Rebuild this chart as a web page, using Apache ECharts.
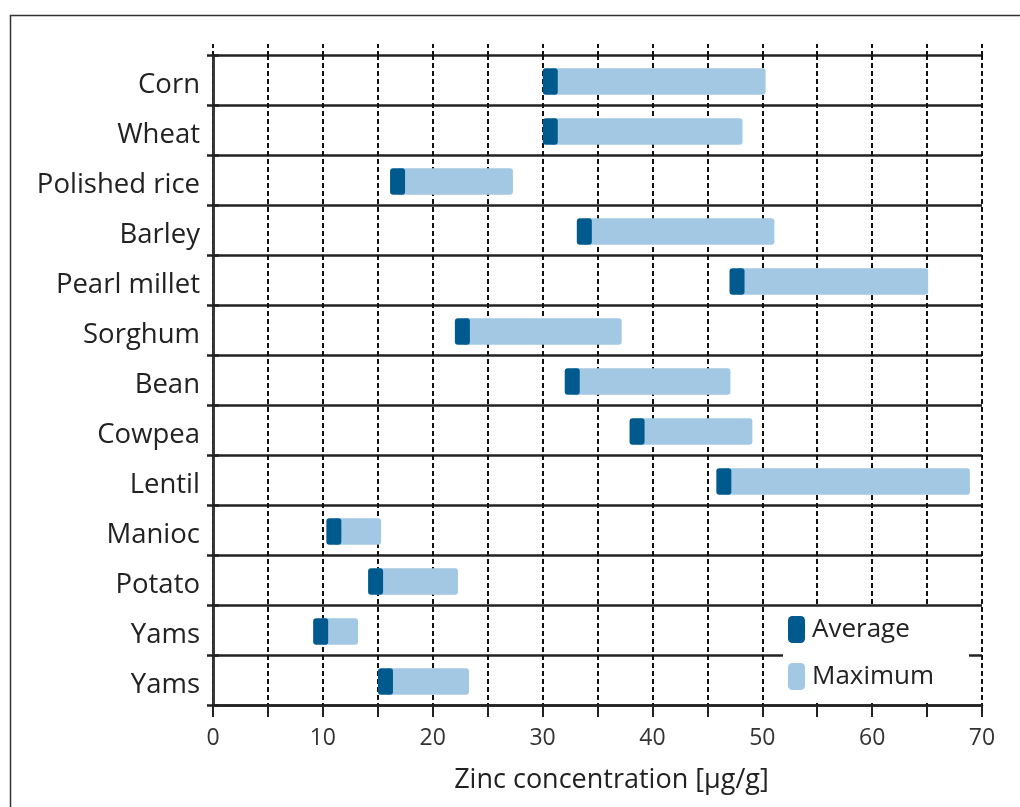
<!DOCTYPE html>
<html>
<head>
<meta charset="utf-8">
<title>Zinc concentration in staple crops</title>
<script src="https://cdn.jsdelivr.net/npm/echarts@6/dist/echarts.min.js"></script>
<style>
  html, body { margin: 0; padding: 0; background: #ffffff; }
  #chart { width: 1020px; height: 807px; }
</style>
</head>
<body>
<div id="chart"></div>
<script>
// Crops, top to bottom
const categories = ['Corn', 'Wheat', 'Polished rice', 'Barley', 'Pearl millet', 'Sorghum',
  'Bean', 'Cowpea', 'Lentil', 'Manioc', 'Potato', 'Yams', 'Yams'];
// Average zinc concentration [µg/g]
const averageZinc = [30.7, 30.7, 16.8, 33.8, 47.7, 22.7, 32.7, 38.6, 46.5, 11.0, 14.8, 9.8, 15.7];
// Maximum zinc concentration [µg/g]
const maximumZinc = [50.3, 48.2, 27.3, 51.1, 65.1, 37.2, 47.1, 49.1, 68.9, 15.3, 22.3, 13.2, 23.3];
// x-axis tick labels
const xTickLabels = [0, 10, 20, 30, 40, 50, 60, 70];

const DARK = '#005a8e';
const LIGHT = '#a3c8e4';
const FONT = '"Open Sans", "DejaVu Sans", sans-serif';

const rows = categories.map((c, i) => [averageZinc[i], maximumZinc[i], i]);

function bandGeom(api) {
  const idx = api.value(2);
  const pAvg = api.coord([api.value(0), idx]);
  const pMax = api.coord([api.value(1), idx]);
  const band = api.size([0, 1])[1];
  const h = band * 0.53;
  const y = pAvg[1] - h / 2 + 1.5;
  return { pAvg, pMax, h, y };
}

const chart = echarts.init(document.getElementById('chart'), null, { renderer: 'canvas' });

chart.setOption({
  animation: false,
  backgroundColor: '#ffffff',
  textStyle: { fontFamily: FONT },
  grid: { left: 213, right: 38, top: 55, bottom: 102, containLabel: false },
  legend: {
    orient: 'vertical',
    left: 788,
    top: 616,
    padding: 0,
    z: 10,
    itemWidth: 17,
    itemHeight: 27,
    itemGap: 20,
    icon: 'roundRect',
    data: ['Average', 'Maximum'],
    textStyle: { fontFamily: FONT, fontSize: 26, color: '#222222', padding: [0, 0, 0, 2] }
  },
  xAxis: [
    {
      type: 'value',
      position: 'bottom',
      min: 0, max: 70, interval: 5,
      axisLine: { show: true, lineStyle: { color: '#222', width: 2.5 } },
      axisTick: { show: true, length: 12, lineStyle: { color: '#222', width: 2 } },
      axisLabel: {
        margin: 22, fontSize: 23, color: '#333', fontFamily: FONT,
        formatter: v => (xTickLabels.indexOf(v) >= 0 ? String(v) : '')
      },
      splitLine: { show: true, lineStyle: { color: '#111', width: 2, type: [5, 3] } },
      name: 'Zinc concentration [µg/g]',
      nameLocation: 'middle',
      nameGap: 62,
      nameTextStyle: { fontSize: 27, color: '#222', fontFamily: FONT, padding: [0, 0, 0, 28] }
    },
    {
      type: 'value',
      position: 'top',
      min: 0, max: 70, interval: 5,
      axisLine: { show: false },
      axisTick: { show: true, length: 13, lineStyle: { color: '#111', width: 2, type: [4, 3] } },
      axisLabel: { show: false },
      splitLine: { show: false }
    }
  ],
  yAxis: [
    {
      type: 'category',
      data: categories,
      inverse: true,
      axisLine: { show: true, lineStyle: { color: '#222', width: 2.5 } },
      axisTick: { show: true, length: 6, lineStyle: { color: '#222', width: 2.5 } },
      axisLabel: {
        margin: 13, fontSize: 27.5, color: '#222', fontFamily: FONT,
        verticalAlign: 'top', lineHeight: 10
      },
      splitLine: { show: true, lineStyle: { color: '#222', width: 2.5 } }
    },
    {
      type: 'category',
      data: categories,
      inverse: true,
      position: 'right',
      axisLine: { show: true, lineStyle: { color: '#333', width: 2.5 } },
      axisTick: { show: true, length: 6, lineStyle: { color: '#222', width: 2.5 } },
      axisLabel: { show: false },
      splitLine: { show: false }
    }
  ],
  graphic: [
    {
      type: 'rect', z: 0, silent: true,
      shape: { x: 10.5, y: 15.5, width: 1100, height: 900 },
      style: { fill: 'none', stroke: '#333', lineWidth: 1.5 }
    },
    {
      type: 'rect', z: 5, silent: true,
      shape: { x: 783, y: 607, width: 186, height: 96 },
      style: { fill: '#ffffff' }
    }
  ],
  series: [
    {
      name: 'Maximum',
      type: 'custom',
      xAxisIndex: 0, yAxisIndex: 0,
      itemStyle: { color: LIGHT },
      encode: { x: [0, 1], y: 2 },
      data: rows,
      z: 2,
      renderItem: (params, api) => {
        const g = bandGeom(api);
        return {
          type: 'rect',
          shape: { x: g.pAvg[0], y: g.y, width: g.pMax[0] - g.pAvg[0], height: g.h, r: 3 },
          style: { fill: LIGHT }
        };
      }
    },
    {
      name: 'Average',
      type: 'custom',
      xAxisIndex: 0, yAxisIndex: 0,
      itemStyle: { color: DARK },
      encode: { x: [0, 1], y: 2 },
      data: rows,
      z: 3,
      renderItem: (params, api) => {
        const g = bandGeom(api);
        const w = 15;
        return {
          type: 'rect',
          shape: { x: g.pAvg[0] - w / 2, y: g.y, width: w, height: g.h, r: 3 },
          style: { fill: DARK }
        };
      }
    }
  ]
});
</script>
</body>
</html>
